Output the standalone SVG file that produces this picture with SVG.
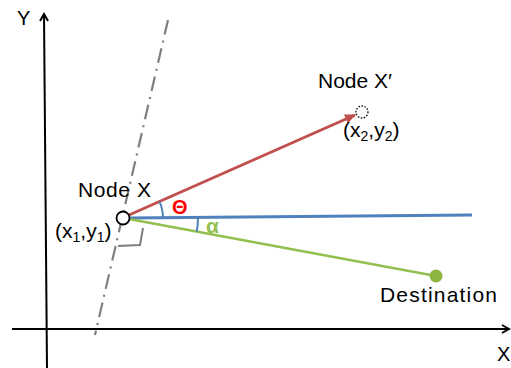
<svg xmlns="http://www.w3.org/2000/svg" width="511" height="368" viewBox="0 0 511 368">
<defs>
<style>
.t{font-family:"Liberation Sans",Arial,sans-serif;fill:#000;}
.axis{stroke:#000;stroke-width:2;fill:none;}
</style>
<marker id="ah" markerWidth="10" markerHeight="10" refX="8" refY="5" orient="auto" markerUnits="userSpaceOnUse">
<path d="M1,1 L8,5 L1,9" fill="none" stroke="#000" stroke-width="2"/>
</marker>
<marker id="ar" markerWidth="12" markerHeight="12" refX="10" refY="6" orient="auto" markerUnits="userSpaceOnUse">
<path d="M0,1 L11,6 L0,11 z" fill="#C0504D"/>
</marker>
</defs>
<rect width="511" height="368" fill="#fff"/>
<g id="axes">
<line class="axis" x1="47" y1="368" x2="44" y2="14" marker-end="url(#ah)"/>
<line class="axis" x1="12" y1="329" x2="509" y2="329" marker-end="url(#ah)"/>
<text class="t" x="17" y="25" font-size="20">Y</text>
<text class="t" x="497" y="361" font-size="20">X</text>
</g>
<g id="connectors">
<line x1="168" y1="20" x2="95" y2="335" stroke="#7F7F7F" stroke-width="2.2" stroke-dasharray="15,6,2,6"/>
<line x1="129" y1="218" x2="472" y2="215" stroke="#4F81BD" stroke-width="3"/>
<line x1="129" y1="219" x2="436" y2="276" stroke="#92C04E" stroke-width="2.5"/>
<line x1="129" y1="215" x2="355" y2="115" stroke="#C0504D" stroke-width="3" marker-end="url(#ar)"/>
<path d="M159.5,201.6 A40,40 0 0 1 163,218" fill="none" stroke="#4F81BD" stroke-width="2"/>
<path d="M198,217.4 A75,75 0 0 1 196.7,231.7" fill="none" stroke="#4F81BD" stroke-width="2"/>
<polyline points="143,228 140,245 118,246" fill="none" stroke="#7F7F7F" stroke-width="2"/>
<text x="172" y="214" font-family="Liberation Sans,Arial,sans-serif" font-size="20" font-weight="bold" fill="#FF0000">Θ</text>
<text x="206" y="233" font-family="Liberation Sans,Arial,sans-serif" font-size="21" font-weight="bold" fill="#92C04E">α</text>
</g>
<g id="nodeX">
<circle cx="123" cy="218" r="6.5" fill="#fff" stroke="#000" stroke-width="1.8"/>
<text class="t" x="78" y="197" font-size="21" textLength="73" lengthAdjust="spacing">Node X</text>
<text class="t" x="55" y="238" font-size="21">(x<tspan font-size="14" dy="4">1</tspan><tspan dy="-4">,y</tspan><tspan font-size="14" dy="4">1</tspan><tspan dy="-4">)</tspan></text>
</g>
<g id="nodeXprime">
<circle cx="362" cy="112" r="6" fill="none" stroke="#000" stroke-width="1.3" stroke-dasharray="1.5,1.5"/>
<text class="t" x="318" y="88" font-size="21">Node X′</text>
<text class="t" x="343" y="137" font-size="21">(x<tspan font-size="14" dy="4">2</tspan><tspan dy="-4">,y</tspan><tspan font-size="14" dy="4">2</tspan><tspan dy="-4">)</tspan></text>
</g>
<g id="destination">
<circle cx="436" cy="276" r="6.5" fill="#8DB43E"/>
<text class="t" x="380" y="302" font-size="21" textLength="117" lengthAdjust="spacing">Destination</text>
</g>
</svg>
